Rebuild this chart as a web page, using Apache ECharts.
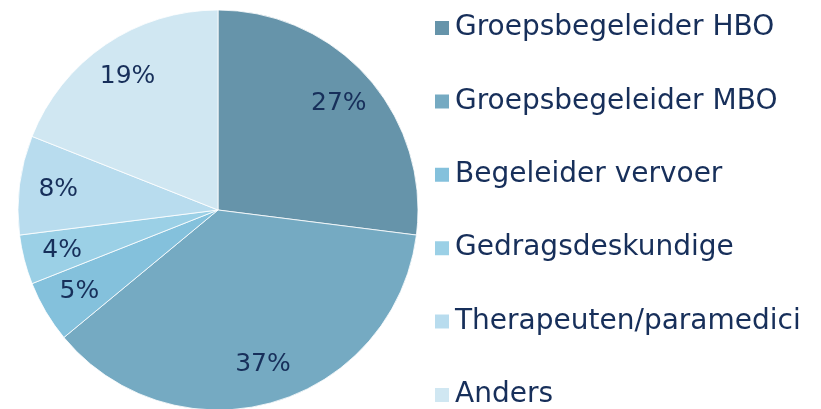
<!DOCTYPE html>
<html>
<head>
<meta charset="utf-8">
<script src="https://cdn.jsdelivr.net/npm/echarts@6/dist/echarts.min.js"></script>
<style>
html, body { margin: 0; padding: 0; background: #fff; }
#main { width: 821px; height: 409px; }
</style>
</head>
<body>
<div id="main"></div>
<script>
// categorieën en percentages
const categories = ['Groepsbegeleider HBO', 'Groepsbegeleider MBO', 'Begeleider vervoer', 'Gedragsdeskundige', 'Therapeuten/paramedici', 'Anders'];
const values = [27, 37, 5, 4, 8, 19];
const colorList = ['#6694AA', '#75AAC2', '#84C1DC', '#9BD0E6', '#B8DCEE', '#D0E7F2'];

const textColor = '#172F5A';
const fontFamily = '"DejaVu Sans", sans-serif';

const chartDom = document.getElementById('main');
const myChart = echarts.init(chartDom);

const pieData = categories.map((name, i) => ({ name: name, value: values[i] }));

const option = {
    animation: false,
    color: colorList,
    legend: {
        orient: 'vertical',
        left: 433,
        top: 14,
        height: 460,
        padding: 0,
        icon: 'rect',
        itemWidth: 16,
        itemHeight: 16,
        itemGap: 45.4,
        textStyle: { color: textColor, fontSize: 28, lineHeight: 28, fontFamily: fontFamily },
        data: categories
    },
    series: [
        {
            // de taartpunten zelf
            type: 'pie',
            center: [218, 210],
            radius: [0, 200],
            startAngle: 90,
            clockwise: true,
            silent: true,
            itemStyle: { borderColor: '#fff', borderWidth: 0.8 },
            label: { show: false },
            labelLine: { show: false },
            data: pieData
        },
        {
            // alleen voor de labels (ring, zodat 'inside' verder naar buiten komt)
            type: 'pie',
            center: [218, 210],
            radius: [116, 200],
            startAngle: 90,
            clockwise: true,
            silent: true,
            itemStyle: { color: 'rgba(0,0,0,0)' },
            label: {
                show: true,
                position: 'inside',
                formatter: '{c}%',
                color: textColor,
                fontSize: 25,
                fontFamily: fontFamily
            },
            labelLine: { show: false },
            data: pieData
        }
    ]
};
option && myChart.setOption(option);
</script>
</body>
</html>
